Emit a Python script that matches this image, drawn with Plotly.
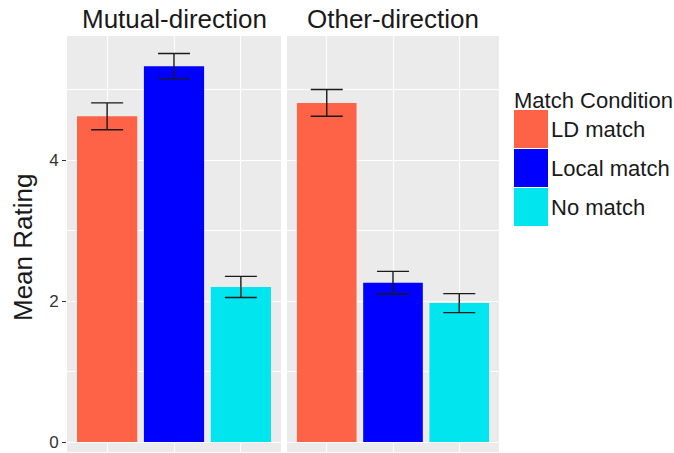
import plotly.graph_objects as go

conditions = ["LD match", "Local match", "No match"]
panels = ["Mutual-direction", "Other-direction"]
mutual_means = [4.62, 5.33, 2.20]
mutual_se = [0.19, 0.18, 0.15]
other_means = [4.81, 2.26, 1.97]
other_se = [0.19, 0.16, 0.135]
colors = ["#FF6347", "#0000FF", "#00E5EE"]
y_ticks = [0, 2, 4]

W, H = 674, 453
L, R, T, B = 67, 499, 36, 452


def px_x(p):
    return (p - L) / (R - L)


def px_y(p):
    return (B - p) / (B - T)


fig = go.Figure()
for i, (means, se) in enumerate([(mutual_means, mutual_se), (other_means, other_se)]):
    xa = "x" if i == 0 else "x2"
    fig.add_trace(go.Bar(
        x=conditions, y=means, xaxis=xa, yaxis="y",
        marker=dict(color=colors, line=dict(width=0)),
        width=0.9,
        error_y=dict(type="data", array=se, visible=True, color="#1a1a1a",
                     thickness=1.4, width=16),
        showlegend=False,
    ))

axis_common = dict(
    type="category", range=[-0.6, 2.6], showticklabels=False, ticks="",
    showgrid=True, gridcolor="white", gridwidth=1.4, zeroline=False,
    showline=False, fixedrange=True,
)
fig.update_layout(
    width=W, height=H,
    margin=dict(l=L, r=W - R, t=T, b=H - B, pad=0, autoexpand=False),
    paper_bgcolor="white", plot_bgcolor="rgba(0,0,0,0)",
    font=dict(family="Liberation Sans, Arial, sans-serif", color="#1a1a1a"),
    bargap=0.1,
    xaxis=dict(domain=[0, px_x(281)], **axis_common),
    xaxis2=dict(domain=[px_x(287), 1], anchor="y", **axis_common),
    yaxis=dict(
        range=[(442 - B) / 70.5, (442 - T) / 70.5],
        tickvals=y_ticks, ticktext=[str(v) for v in y_ticks],
        ticks="outside", ticklen=4, tickwidth=1, tickcolor="#333333",
        tickfont=dict(size=17, color="#333333"),
        showgrid=True, gridcolor="white", gridwidth=1.4, zeroline=False,
        showline=False, automargin=False,
        minor=dict(dtick=1, tick0=0, showgrid=True, gridcolor="white",
                   gridwidth=0.7, ticks=""),
    ),
    showlegend=False,
)

shapes = []
for x0, x1 in [(L, 281), (287, R)]:
    shapes.append(dict(type="rect", xref="paper", yref="paper",
                       x0=px_x(x0), x1=px_x(x1), y0=0, y1=1,
                       fillcolor="#EBEBEB", line=dict(width=0), layer="below"))

annotations = []
for name, cx in zip(panels, [174, 393]):
    annotations.append(dict(text=name, xref="paper", yref="paper",
                            x=px_x(cx), y=1, xanchor="center", yanchor="bottom",
                            showarrow=False, font=dict(size=26, color="#1a1a1a")))
annotations.append(dict(text="Mean Rating", xref="paper", yref="paper",
                        x=px_x(23), y=px_y(248), textangle=-90,
                        xanchor="center", yanchor="middle", showarrow=False,
                        font=dict(size=26, color="#1a1a1a")))
annotations.append(dict(text="Match Condition", xref="paper", yref="paper",
                        x=px_x(512), y=px_y(100), xanchor="left", yanchor="middle",
                        showarrow=False, font=dict(size=22, color="#1a1a1a")))
key_tops = [110, 149, 188]
for cond, col, top in zip(conditions, colors, key_tops):
    shapes.append(dict(type="rect", xref="paper", yref="paper",
                       x0=px_x(514), x1=px_x(548), y0=px_y(top + 38), y1=px_y(top),
                       fillcolor=col, line=dict(width=0)))
    annotations.append(dict(text=cond, xref="paper", yref="paper",
                            x=px_x(549), y=px_y(top + 19), xanchor="left",
                            yanchor="middle", showarrow=False,
                            font=dict(size=22, color="#1a1a1a")))

fig.update_layout(shapes=shapes, annotations=annotations)
fig.write_html("out.html", config={"displayModeBar": False},
               post_script="document.body.style.margin='0px';document.body.style.overflow='hidden';")
